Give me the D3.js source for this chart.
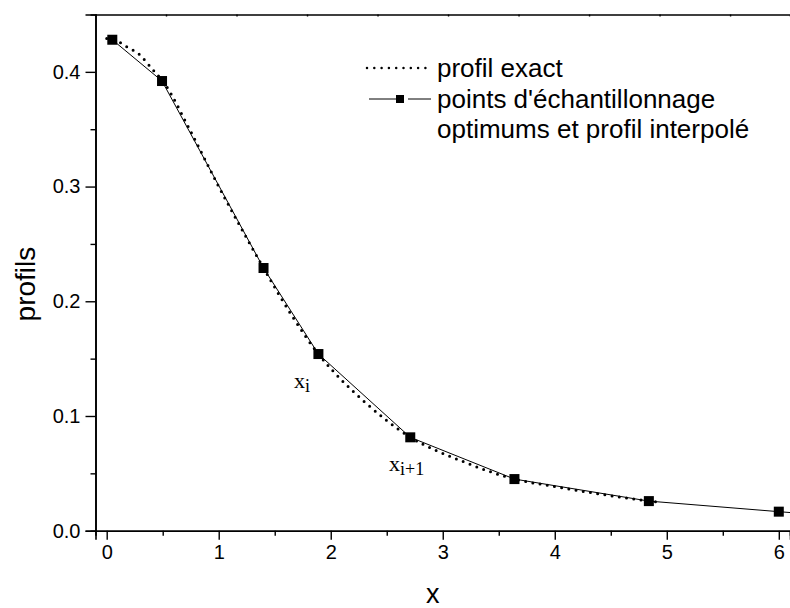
<!DOCTYPE html>
<html>
<head>
<meta charset="utf-8">
<script src="https://cdn.jsdelivr.net/npm/d3@7"></script>
<style>
  html, body { margin: 0; padding: 0; background: #fff; }
  svg { display: block; }
  text { font-family: "Liberation Sans", Arial, sans-serif; fill: #000; }
  .serif { font-family: "Liberation Serif", "Times New Roman", serif; }
</style>
</head>
<body>
<svg id="chart" width="790" height="608"></svg>
<script>
// Exact profile (dotted curve)
const exactX = [0, 0.05, 0.1, 0.18, 0.25, 0.3, 0.35, 0.42, 0.5, 0.75, 1.0, 1.25, 1.4, 1.65, 1.89,
                2.1, 2.3, 2.5, 2.71, 2.95, 3.17, 3.4, 3.64, 4.0, 4.24, 4.5, 4.84, 4.96];
const exactY = [0.429, 0.428, 0.4265, 0.4217, 0.418, 0.4145, 0.409, 0.401, 0.392, 0.348, 0.300, 0.255, 0.229, 0.188, 0.154,
                0.131, 0.1125, 0.096, 0.0814, 0.0695, 0.0607, 0.0522, 0.045, 0.0385, 0.0345, 0.0305, 0.0258, 0.0245];

// Optimal sampling points and the piecewise-linear interpolated profile
const sampleX = [0.05, 0.494, 1.40, 1.89, 2.71, 3.64, 4.84, 6.0, 6.3];
const sampleY = [0.428, 0.392, 0.229, 0.154, 0.0814, 0.045, 0.0258, 0.0166, 0.0143];

// Axis ticks
const xTicks = [0, 1, 2, 3, 4, 5, 6];
const xMinorTicks = [0.5, 1.5, 2.5, 3.5, 4.5, 5.5];
const yTicks = [0.0, 0.1, 0.2, 0.3, 0.4];
const yMinorTicks = [0.05, 0.15, 0.25, 0.35];
const topTicks = [1, 2, 3, 4, 5, 6, 7, 8, 9];

const legendLabels = ["profil exact", "points d'échantillonnage", "optimums et profil interpolé"];

const svg = d3.select("#chart");
const plotLeft = 95.5, plotRight = 790, plotTop = 14.5, plotBottom = 530.7;

const x = d3.scaleLinear().domain([-0.1, 6.1]).range([plotLeft, plotRight]);
const y = d3.scaleLinear().domain([0, 0.45]).range([plotBottom, plotTop]);
const xTop = d3.scaleLinear().domain([0, 9.85]).range([plotLeft, plotRight]);

svg.append("defs").append("clipPath").attr("id", "plotclip")
  .append("rect").attr("x", plotLeft).attr("y", plotTop)
  .attr("width", plotRight - plotLeft).attr("height", plotBottom - plotTop);

// Bottom axis: major + minor ticks
svg.append("g").attr("transform", `translate(0,${plotBottom})`)
  .call(d3.axisBottom(x).tickValues(xTicks).tickFormat(d3.format("d")).tickSize(9).tickPadding(5));
svg.append("g").attr("transform", `translate(0,${plotBottom})`)
  .call(d3.axisBottom(x).tickValues(xMinorTicks).tickFormat("").tickSize(5));

// Left axis: major + minor ticks
svg.append("g").attr("transform", `translate(${plotLeft},0)`)
  .call(d3.axisLeft(y).tickValues(yTicks).tickFormat(d3.format(".1f")).tickSize(10).tickPadding(5));
svg.append("g").attr("transform", `translate(${plotLeft},0)`)
  .call(d3.axisLeft(y).tickValues(yMinorTicks).tickFormat("").tickSize(5));

// Top frame with small inward ticks
svg.append("g").attr("transform", `translate(0,${plotTop})`)
  .call(d3.axisBottom(xTop).tickValues(topTicks).tickFormat("").tickSize(2));

svg.selectAll(".domain").attr("stroke", "#000").attr("stroke-width", 1.6);
svg.selectAll(".tick line").attr("stroke", "#000").attr("stroke-width", 1.4);
svg.selectAll(".tick text").attr("font-size", 20).attr("font-family", "Liberation Sans, Arial, sans-serif").attr("fill", "#000");

// Axis titles
svg.append("text").attr("x", x(2.91)).attr("y", 603).attr("text-anchor", "middle")
  .attr("font-size", 27).text("x");
svg.append("text").attr("transform", `translate(35,${y(0.215)}) rotate(-90)`)
  .attr("text-anchor", "middle").attr("font-size", 28).text("profils");

const plot = svg.append("g").attr("clip-path", "url(#plotclip)");

// Exact profile, dotted
const exactData = exactX.map((v, i) => [v, exactY[i]]);
plot.append("path").datum(exactData)
  .attr("fill", "none").attr("stroke", "#000").attr("stroke-width", 3)
  .attr("stroke-linecap", "round").attr("stroke-dasharray", "0 7.3")
  .attr("d", d3.line().x(d => x(d[0])).y(d => y(d[1])).curve(d3.curveMonotoneX));

// Interpolated profile through the sampling points
const sampleData = sampleX.map((v, i) => [v, sampleY[i]]);
plot.append("path").datum(sampleData)
  .attr("fill", "none").attr("stroke", "#000").attr("stroke-width", 1)
  .attr("d", d3.line().x(d => x(d[0])).y(d => y(d[1])));

const sq = 10;
plot.selectAll("rect.pt").data(sampleData).join("rect").attr("class", "pt")
  .attr("x", d => x(d[0]) - sq / 2).attr("y", d => y(d[1]) - sq / 2)
  .attr("width", sq).attr("height", sq).attr("fill", "#000");

// Annotations x_i and x_{i+1}
const a1 = svg.append("text").attr("class", "serif").attr("x", 294).attr("y", 388).attr("font-size", 22);
a1.append("tspan").text("x");
a1.append("tspan").attr("font-size", 18).attr("dy", 4).text("i");
const a2 = svg.append("text").attr("class", "serif").attr("x", 389).attr("y", 471).attr("font-size", 22);
a2.append("tspan").text("x");
a2.append("tspan").attr("font-size", 18).attr("dy", 4).text("i+1");

// Legend
const lg = svg.append("g");
lg.append("line").attr("x1", 367).attr("x2", 426).attr("y1", 68).attr("y2", 68)
  .attr("stroke", "#000").attr("stroke-width", 2.5).attr("stroke-linecap", "round").attr("stroke-dasharray", "0 7.3");
lg.append("line").attr("x1", 369).attr("x2", 396).attr("y1", 99).attr("y2", 99).attr("stroke", "#000").attr("stroke-width", 1);
lg.append("line").attr("x1", 408).attr("x2", 431).attr("y1", 99).attr("y2", 99).attr("stroke", "#000").attr("stroke-width", 1);
lg.append("rect").attr("x", 396).attr("y", 95).attr("width", 8).attr("height", 8).attr("fill", "#000");
lg.selectAll("text.lt").data(legendLabels).join("text").attr("class", "lt")
  .attr("x", 437).attr("y", (d, i) => 77 + i * 30.5).attr("font-size", 26).text(d => d);
</script>
</body>
</html>
